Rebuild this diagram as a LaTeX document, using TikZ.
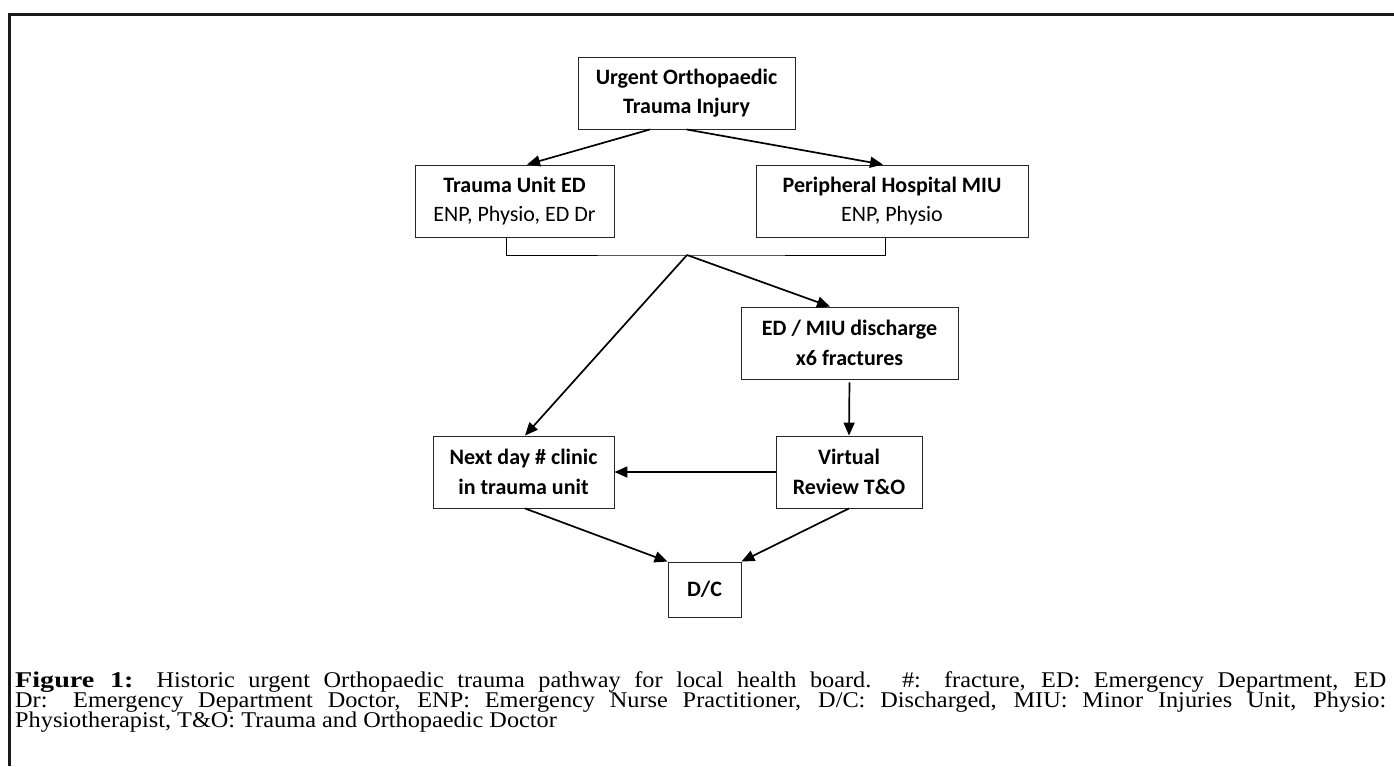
\documentclass[tikz,border=0pt]{standalone}
\usepackage{fontspec}
\setmainfont[FakeStretch=1.08]{Liberation Serif}
\newfontfamily\figbold[FakeStretch=1.25]{Liberation Serif Bold}
\newfontfamily\boxfont{Carlito}
\usetikzlibrary{arrows.meta}
\begin{document}
\begin{tikzpicture}[x=1pt,y=-1pt,
  box/.style={draw=black!85, line width=0.9pt, inner sep=0pt, align=center,
    font=\boxfont\fontsize{22}{29.5}\selectfont},
  arr/.style={line width=1.7pt, -{Triangle[length=13pt,width=11pt]}},
  link/.style={line width=1pt},
  frame/.style={line width=2.6pt, black!90},
  capline/.style={anchor=base west, inner sep=0pt, font=\fontsize{22.5}{20}\selectfont}]
\useasboundingbox (0,0) rectangle (1394,766);
% frame (top and left edges)
\coordinate (fa) at (9.7,766);
\coordinate (fb) at (9.7,14.5);
\coordinate (fc) at (1394,14.5);
\draw[frame] (fa) -- (fb) -- (fc);
% nodes
\node[box, minimum width=217pt, minimum height=72pt] (top) at (686.5,93)
  {\bfseries Urgent Orthopaedic\\\bfseries Trauma Injury};
\node[box, minimum width=199pt, minimum height=72pt] (ted) at (514.5,201)
  {\bfseries Trauma Unit ED\\ENP, Physio, ED Dr};
\node[box, minimum width=272pt, minimum height=72pt] (miu) at (892,201)
  {\bfseries Peripheral Hospital MIU\\ENP, Physio};
\node[box, minimum width=217pt, minimum height=72pt] (edd) at (849.5,343)
  {\bfseries ED / MIU discharge\\\bfseries x6 fractures};
\node[box, minimum width=181pt, minimum height=72pt] (nd) at (523.5,472)
  {\bfseries Next day \# clinic\\\bfseries in trauma unit};
\node[box, minimum width=146pt, minimum height=72pt] (vr) at (849,472)
  {\bfseries Virtual\\\bfseries Review T\&O};
\node[box, minimum width=73pt, minimum height=55pt] (dc) at (704.5,589.5)
  {\bfseries D/C};
% connectors
\draw[arr] ([xshift=-36.5pt]top.south) -- ([xshift=12.5pt]ted.north);
\draw[arr] (top.south) -- ([xshift=-9pt]miu.north);
\coordinate (jn) at (687,255);
\draw[link] ([xshift=-8.5pt]ted.south) |- (jn) -| ([xshift=-7pt]miu.south);
\draw[arr] (jn) -- ([xshift=1.5pt]nd.north);
\draw[arr] (jn) -- ([xshift=-19.5pt]edd.north);
\draw[arr, shorten <=3pt] (edd.south) -- (vr.north);
\draw[arr] (vr.west) -- (nd.east);
\draw[arr] ([xshift=1.5pt]nd.south) -- (dc.north west);
\draw[arr] (vr.south) -- (dc.north east);
% caption
\node[capline] (cap1) at (15,687)
  {\makebox[1371pt][s]{{\figbold Figure 1:} Historic urgent Orthopaedic trauma pathway for local health board. \#: fracture, ED: Emergency Department, ED}};
\node[capline] (cap2) at (15,707)
  {\makebox[1371pt][s]{Dr: Emergency Department Doctor, ENP: Emergency Nurse Practitioner, D/C: Discharged, MIU: Minor Injuries Unit, Physio:}};
\node[capline] (cap3) at (15,727)
  {Physiotherapist, T\&O: Trauma and Orthopaedic Doctor};
\end{tikzpicture}
\end{document}
